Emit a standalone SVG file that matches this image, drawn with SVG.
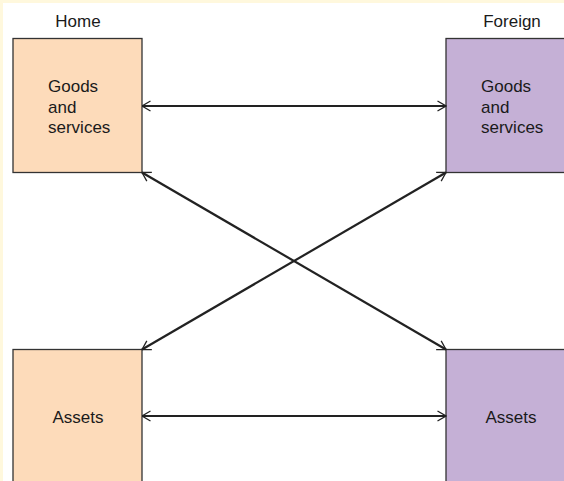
<svg xmlns="http://www.w3.org/2000/svg" width="564" height="481" viewBox="0 0 564 481">
<style>
.home{fill:#FDDBBA;stroke:#333;stroke-width:1.3}
.foreign{fill:#C5B0D6;stroke:#333;stroke-width:1.3}
.t{font-family:"Liberation Sans",Arial,sans-serif;font-size:17px;fill:#1a1a1a}
.c{stroke:#222;stroke-width:2.2;fill:none;marker-start:url(#ah);marker-end:url(#ah)}
</style>
<defs>
<marker id="ah" viewBox="0 0 10 12" refX="9.5" refY="6" markerWidth="10" markerHeight="12" markerUnits="userSpaceOnUse" orient="auto-start-reverse">
<path d="M1,1 L9.5,6 L1,11" fill="none" stroke="#222" stroke-width="1.3"/>
</marker>
</defs>
<rect x="0" y="0" width="564" height="481" fill="#FFF8DD"/>
<rect x="3" y="3" width="561" height="478" fill="#FFFFFF"/>
<text class="t" x="78" y="27" text-anchor="middle">Home</text>
<text class="t" x="512" y="27" text-anchor="middle">Foreign</text>
<g id="home-goods">
<rect class="home" x="13" y="38.5" width="129" height="134"/>
<text class="t" x="48" y="92">Goods</text>
<text class="t" x="48" y="112.5">and</text>
<text class="t" x="48" y="133">services</text>
</g>
<g id="foreign-goods">
<rect class="foreign" x="446" y="38.5" width="125" height="134"/>
<text class="t" x="481" y="92">Goods</text>
<text class="t" x="481" y="112.5">and</text>
<text class="t" x="481" y="133">services</text>
</g>
<g id="home-assets">
<rect class="home" x="13" y="349.5" width="129" height="140"/>
<text class="t" x="78" y="423" text-anchor="middle">Assets</text>
</g>
<g id="foreign-assets">
<rect class="foreign" x="446" y="349.5" width="125" height="140"/>
<text class="t" x="511" y="423" text-anchor="middle">Assets</text>
</g>
<g id="connectors">
<line class="c" x1="142" y1="106" x2="446" y2="106"/>
<line class="c" x1="142" y1="416" x2="446" y2="416"/>
<line class="c" x1="142" y1="172.5" x2="446" y2="349.5"/>
<line class="c" x1="142" y1="349.5" x2="446" y2="172.5"/>
</g>
</svg>
